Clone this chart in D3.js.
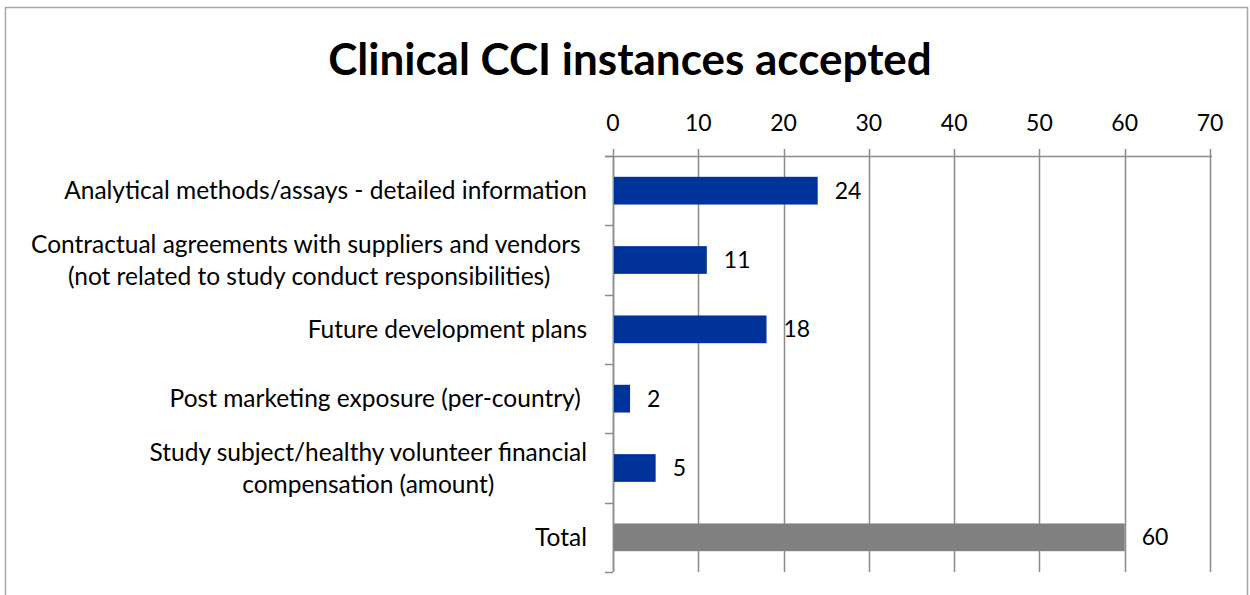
<!DOCTYPE html>
<html>
<head>
<meta charset="utf-8">
<script src="https://cdn.jsdelivr.net/npm/d3@7"></script>
<style>
  body { margin: 0; background: #fff; }
  svg text { font-family: Lato, "Open Sans", sans-serif; fill: #000; }
</style>
</head>
<body>
<svg id="chart" width="1250" height="595"></svg>
<script>
'use strict'
// chart data
const categories = [
  ['Analytical methods/assays - detailed information'],
  ['Contractual agreements with suppliers and vendors ', '(not related to study conduct responsibilities)'],
  ['Future development plans'],
  ['Post marketing exposure (per-country) '],
  ['Study subject/healthy volunteer financial', 'compensation (amount)'],
  ['Total']
]
const values = [24, 11, 18, 2, 5, 60]
const isTotal = [false, false, false, false, false, true]
const xTicks = [0, 10, 20, 30, 40, 50, 60, 70]
const title = 'Clinical CCI instances accepted'

const svg = d3.select('#chart')
const margin = {top: 156, left: 613, right: 40, bottom: 23},
  width = 1210 - margin.left,
  height = 572 - margin.top

// outer chart border
svg.append('rect')
  .attr('x', 5.5).attr('y', 7.5)
  .attr('width', 1242).attr('height', 600)
  .attr('fill', 'none').attr('stroke', '#a6a6a6').attr('stroke-width', 1.5)

svg.append('text')
  .attr('x', 630).attr('y', 75)
  .attr('text-anchor', 'middle')
  .style('font-size', '44px').style('font-weight', 'bold')
  .text(title)

const x = d3.scaleLinear().domain([0, 70]).range([0, width])
const y = d3.scaleBand().domain(d3.range(categories.length)).range([0, height]).paddingInner(0.6).paddingOuter(0.3)
const yb = d3.scaleBand().domain(d3.range(categories.length)).range([0, height])

const g = svg.append('g').attr('transform', 'translate(' + [margin.left, margin.top] + ')')

// vertical gridlines
g.append('g').selectAll('line')
  .data(xTicks).enter().append('line')
  .attr('x1', d => Math.round(x(d)) + 0.5).attr('x2', d => Math.round(x(d)) + 0.5)
  .attr('y1', -7).attr('y2', height)
  .attr('stroke', '#8c8c8c').attr('stroke-width', 1.5)

// top axis line and tick labels
g.append('line')
  .attr('x1', -8).attr('x2', width + 2)
  .attr('y1', 0.5).attr('y2', 0.5)
  .attr('stroke', '#8c8c8c').attr('stroke-width', 1.5)

g.append('g').selectAll('text')
  .data(xTicks).enter().append('text')
  .attr('x', d => x(d)).attr('y', -25)
  .attr('text-anchor', 'middle')
  .style('font-size', '23px')
  .text(d => d)

// left axis with category ticks
g.append('line')
  .attr('x1', 0.5).attr('x2', 0.5).attr('y1', 0).attr('y2', height)
  .attr('stroke', '#8c8c8c').attr('stroke-width', 1.5)
g.append('g').selectAll('line')
  .data(d3.range(categories.length + 1)).enter().append('line')
  .attr('x1', -8).attr('x2', 0)
  .attr('y1', d => Math.round(d * yb.step()) + 0.5).attr('y2', d => Math.round(d * yb.step()) + 0.5)
  .attr('stroke', '#8c8c8c').attr('stroke-width', 1.5)

// bars
g.append('g').selectAll('rect')
  .data(values).enter().append('rect')
  .attr('x', 1)
  .attr('y', (d, i) => y(i))
  .attr('width', d => x(d) - 1)
  .attr('height', y.bandwidth())
  .attr('fill', (d, i) => isTotal[i] ? '#808080' : '#003399')

// value labels
g.append('g').selectAll('text')
  .data(values).enter().append('text')
  .attr('x', d => x(d) + 17)
  .attr('y', (d, i) => yb(i) + yb.bandwidth() / 2 + 8)
  .style('font-size', '23px')
  .text(d => d)

// category labels, lines centred within a right-aligned block
const labelRight = 587 - margin.left
const lineH = 32
categories.forEach((lines, i) => {
  const lg = g.append('g')
  const cy = yb(i) + yb.bandwidth() / 2
  const texts = lines.map((t, j) => lg.append('text')
    .attr('y', cy + (j - (lines.length - 1) / 2) * lineH + 8.5)
    .attr('text-anchor', 'middle')
    .style('font-size', '24.5px')
    .style('white-space', 'pre')
    .text(t))
  const w = d3.max(texts, t => t.node().getComputedTextLength())
  texts.forEach(t => t.attr('x', labelRight - w / 2))
})
</script>
</body>
</html>
